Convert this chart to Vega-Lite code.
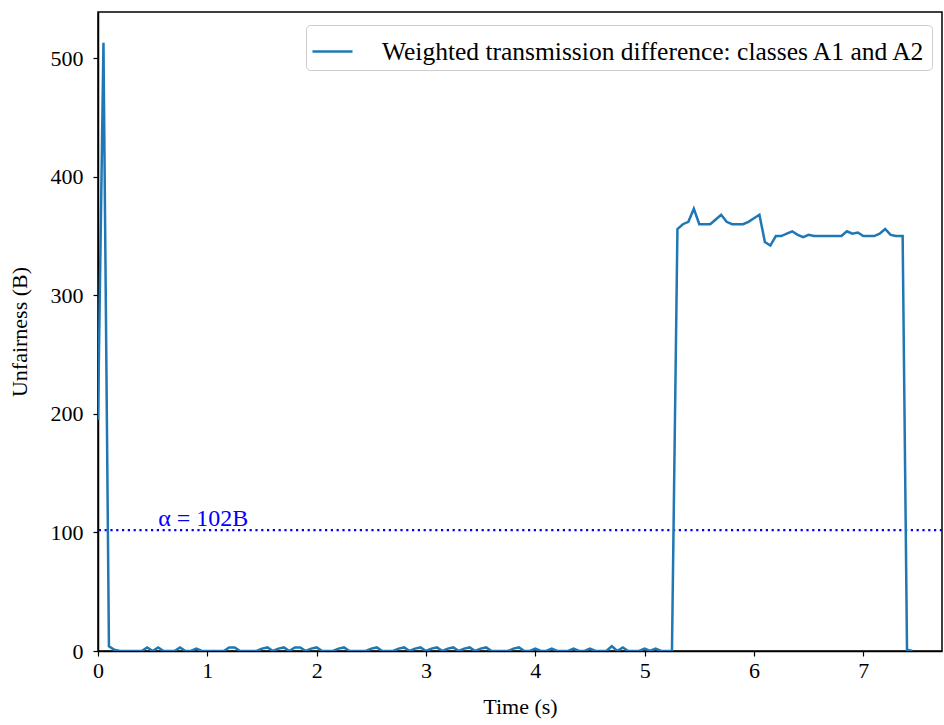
{
  "$schema": "https://vega.github.io/schema/vega-lite/v6.json",
  "width": 844,
  "height": 639,
  "autosize": "none",
  "padding": {"left": 98, "top": 12, "right": 2, "bottom": 74},
  "background": "white",
  "config": {
    "font": "Liberation Serif",
    "view": {"stroke": "black", "strokeWidth": 1.5},
    "axis": {
      "labelFont": "Liberation Serif",
      "titleFont": "Liberation Serif",
      "labelFontSize": 22,
      "titleFontSize": 22,
      "labelColor": "black",
      "titleColor": "black",
      "titleFontWeight": "normal",
      "domainColor": "black",
      "domainWidth": 1.5,
      "tickColor": "black",
      "tickWidth": 1.2,
      "tickSize": 5,
      "labelFlush": false,
      "grid": false
    }
  },
  "datasets": {
    "series": [
      {"t": 0.00, "u": 195}, {"t": 0.05, "u": 513}, {"t": 0.10, "u": 4}, {"t": 0.15, "u": 1},
      {"t": 0.20, "u": 0}, {"t": 0.25, "u": 0}, {"t": 0.30, "u": 0}, {"t": 0.35, "u": 0},
      {"t": 0.40, "u": 0}, {"t": 0.45, "u": 3}, {"t": 0.50, "u": 0}, {"t": 0.55, "u": 3},
      {"t": 0.60, "u": 0}, {"t": 0.65, "u": 0}, {"t": 0.70, "u": 0}, {"t": 0.75, "u": 3},
      {"t": 0.80, "u": 0}, {"t": 0.85, "u": 0}, {"t": 0.90, "u": 2}, {"t": 0.95, "u": 0},
      {"t": 1.00, "u": 0}, {"t": 1.05, "u": 0}, {"t": 1.10, "u": 0}, {"t": 1.15, "u": 0},
      {"t": 1.20, "u": 3}, {"t": 1.25, "u": 3}, {"t": 1.30, "u": 0}, {"t": 1.35, "u": 0},
      {"t": 1.40, "u": 0}, {"t": 1.45, "u": 0}, {"t": 1.50, "u": 2}, {"t": 1.55, "u": 3},
      {"t": 1.60, "u": 0}, {"t": 1.65, "u": 2}, {"t": 1.70, "u": 3}, {"t": 1.75, "u": 0},
      {"t": 1.80, "u": 3}, {"t": 1.85, "u": 3}, {"t": 1.90, "u": 0}, {"t": 1.95, "u": 2},
      {"t": 2.00, "u": 3}, {"t": 2.05, "u": 0}, {"t": 2.10, "u": 0}, {"t": 2.15, "u": 0},
      {"t": 2.20, "u": 2}, {"t": 2.25, "u": 3}, {"t": 2.30, "u": 0}, {"t": 2.35, "u": 0},
      {"t": 2.40, "u": 0}, {"t": 2.45, "u": 0}, {"t": 2.50, "u": 2}, {"t": 2.55, "u": 3},
      {"t": 2.60, "u": 0}, {"t": 2.65, "u": 0}, {"t": 2.70, "u": 0}, {"t": 2.75, "u": 2},
      {"t": 2.80, "u": 3}, {"t": 2.85, "u": 0}, {"t": 2.90, "u": 2}, {"t": 2.95, "u": 3},
      {"t": 3.00, "u": 0}, {"t": 3.05, "u": 2}, {"t": 3.10, "u": 3}, {"t": 3.15, "u": 0},
      {"t": 3.20, "u": 2}, {"t": 3.25, "u": 3}, {"t": 3.30, "u": 0}, {"t": 3.35, "u": 2},
      {"t": 3.40, "u": 3}, {"t": 3.45, "u": 0}, {"t": 3.50, "u": 2}, {"t": 3.55, "u": 3},
      {"t": 3.60, "u": 0}, {"t": 3.65, "u": 0}, {"t": 3.70, "u": 0}, {"t": 3.75, "u": 0},
      {"t": 3.80, "u": 2}, {"t": 3.85, "u": 3}, {"t": 3.90, "u": 0}, {"t": 3.95, "u": 0},
      {"t": 4.00, "u": 2}, {"t": 4.05, "u": 0}, {"t": 4.10, "u": 0}, {"t": 4.15, "u": 2},
      {"t": 4.20, "u": 0}, {"t": 4.25, "u": 0}, {"t": 4.30, "u": 0}, {"t": 4.35, "u": 2},
      {"t": 4.40, "u": 0}, {"t": 4.45, "u": 0}, {"t": 4.50, "u": 2}, {"t": 4.55, "u": 0},
      {"t": 4.60, "u": 0}, {"t": 4.65, "u": 0}, {"t": 4.70, "u": 4}, {"t": 4.75, "u": 0},
      {"t": 4.80, "u": 3}, {"t": 4.85, "u": 0}, {"t": 4.90, "u": 0}, {"t": 4.95, "u": 0},
      {"t": 5.00, "u": 2}, {"t": 5.05, "u": 0}, {"t": 5.10, "u": 2}, {"t": 5.15, "u": 0},
      {"t": 5.20, "u": 0}, {"t": 5.25, "u": 0}, {"t": 5.30, "u": 356}, {"t": 5.35, "u": 360},
      {"t": 5.40, "u": 362}, {"t": 5.45, "u": 373}, {"t": 5.50, "u": 360}, {"t": 5.55, "u": 360},
      {"t": 5.60, "u": 360}, {"t": 5.65, "u": 364}, {"t": 5.70, "u": 368}, {"t": 5.75, "u": 362},
      {"t": 5.80, "u": 360}, {"t": 5.85, "u": 360}, {"t": 5.90, "u": 360}, {"t": 5.95, "u": 362},
      {"t": 6.00, "u": 365}, {"t": 6.05, "u": 368}, {"t": 6.10, "u": 345}, {"t": 6.15, "u": 342},
      {"t": 6.20, "u": 350}, {"t": 6.25, "u": 350}, {"t": 6.30, "u": 352}, {"t": 6.35, "u": 354},
      {"t": 6.40, "u": 351}, {"t": 6.45, "u": 349}, {"t": 6.50, "u": 351}, {"t": 6.55, "u": 350},
      {"t": 6.60, "u": 350}, {"t": 6.65, "u": 350}, {"t": 6.70, "u": 350}, {"t": 6.75, "u": 350},
      {"t": 6.80, "u": 350}, {"t": 6.85, "u": 354}, {"t": 6.90, "u": 352}, {"t": 6.95, "u": 353},
      {"t": 7.00, "u": 350}, {"t": 7.05, "u": 350}, {"t": 7.10, "u": 350}, {"t": 7.15, "u": 352},
      {"t": 7.20, "u": 356}, {"t": 7.25, "u": 351}, {"t": 7.30, "u": 350}, {"t": 7.36, "u": 350},
      {"t": 7.40, "u": 1}, {"t": 7.45, "u": 0}
    ],
    "threshold": [{"alpha": 102, "label": "α = 102B", "t": 0.55}]
  },
  "layer": [
    {
      "data": {"name": "threshold"},
      "mark": {"type": "rule", "color": "#0000ff", "strokeWidth": 2.2, "strokeDash": [2.2, 3.6]},
      "encoding": {
        "y": {"field": "alpha", "type": "quantitative", "scale": {"domain": [0, 539], "nice": false, "zero": false}}
      }
    },
    {
      "data": {"name": "threshold"},
      "mark": {"type": "text", "color": "#0000ff", "align": "left", "baseline": "alphabetic", "dy": -4, "font": "Liberation Serif", "fontSize": 24},
      "encoding": {
        "x": {"field": "t", "type": "quantitative"},
        "y": {"field": "alpha", "type": "quantitative"},
        "text": {"field": "label"}
      }
    },
    {
      "data": {"name": "series"},
      "transform": [{"calculate": "'Weighted transmission difference: classes A1 and A2'", "as": "series"}],
      "mark": {"type": "line", "strokeWidth": 2.5, "strokeJoin": "miter", "clip": true},
      "encoding": {
        "x": {
          "field": "t", "type": "quantitative", "title": "Time (s)",
          "scale": {"domain": [0, 7.72], "nice": false, "zero": false},
          "axis": {"values": [0, 1, 2, 3, 4, 5, 6, 7], "format": "d", "labelPadding": 4, "titlePadding": 15}
        },
        "y": {
          "field": "u", "type": "quantitative", "title": "Unfairness (B)",
          "scale": {"domain": [0, 539], "nice": false, "zero": false},
          "axis": {"values": [0, 100, 200, 300, 400, 500], "labelPadding": 10, "titlePadding": 19}
        },
        "color": {
          "field": "series", "type": "nominal",
          "scale": {"range": ["#1f77b4"]},
          "legend": {
            "title": null,
            "orient": "none",
            "legendX": 208,
            "legendY": 13,
            "symbolType": "M-1,0L1,0",
            "symbolSize": 1600,
            "symbolStrokeWidth": 2.5,
            "labelFont": "Liberation Serif",
            "labelFontSize": 25.5,
            "labelColor": "black",
            "labelLimit": 800,
            "labelOffset": 28,
            "padding": 5,
            "strokeColor": "#cccccc",
            "cornerRadius": 4,
            "fillColor": "white"
          }
        }
      }
    }
  ]
}
